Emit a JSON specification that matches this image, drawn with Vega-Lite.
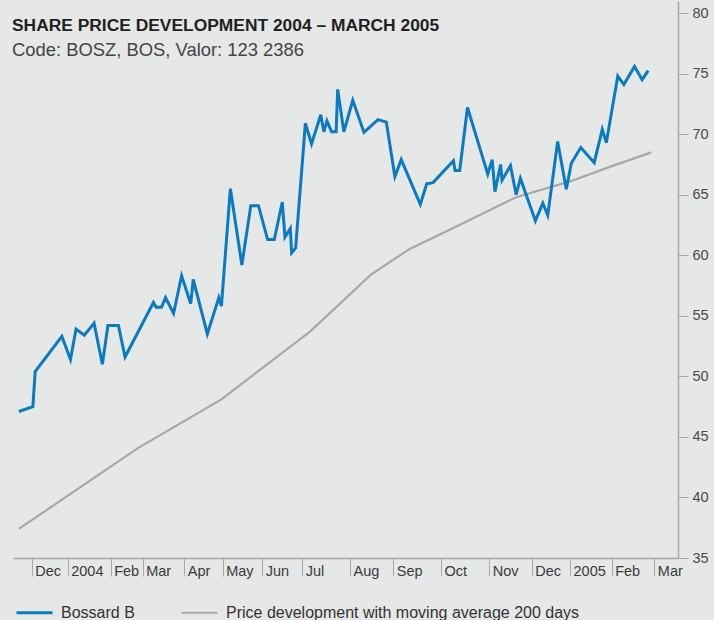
{
  "$schema": "https://vega.github.io/schema/vega-lite/v6.json",
  "width": 665,
  "height": 557,
  "autosize": {"type": "none"},
  "padding": {"left": 13, "top": 1, "right": 36, "bottom": 62},
  "background": "#e6e7e7",
  "config": {"view": {"stroke": null}, "font": "Liberation Sans"},
  "title": {
    "text": "SHARE PRICE DEVELOPMENT 2004 – MARCH 2005",
    "subtitle": "Code: BOSZ, BOS, Valor: 123 2386",
    "anchor": "start",
    "frame": "group",
    "orient": "top",
    "offset": -58,
    "dx": -1,
    "font": "Liberation Sans",
    "fontSize": 17.4,
    "fontWeight": "bold",
    "color": "#231f20",
    "subtitleFont": "Liberation Sans",
    "subtitleFontSize": 18.4,
    "subtitleColor": "#444444",
    "subtitlePadding": 6
  },
  "data": {
    "format": {"parse": {"date": "utc:'%Y-%m-%d'"}},
    "values": [
      {"date": "2003-11-20", "price": 37.4, "series": "Price development with moving average 200 days"},
      {"date": "2004-02-26", "price": 44.1, "series": "Price development with moving average 200 days"},
      {"date": "2004-04-30", "price": 48.1, "series": "Price development with moving average 200 days"},
      {"date": "2004-07-06", "price": 53.7, "series": "Price development with moving average 200 days"},
      {"date": "2004-08-16", "price": 58.4, "series": "Price development with moving average 200 days"},
      {"date": "2004-09-11", "price": 60.5, "series": "Price development with moving average 200 days"},
      {"date": "2004-09-30", "price": 61.7, "series": "Price development with moving average 200 days"},
      {"date": "2004-11-20", "price": 64.8, "series": "Price development with moving average 200 days"},
      {"date": "2004-12-02", "price": 65.2, "series": "Price development with moving average 200 days"},
      {"date": "2005-01-01", "price": 66.1, "series": "Price development with moving average 200 days"},
      {"date": "2005-01-28", "price": 67.2, "series": "Price development with moving average 200 days"},
      {"date": "2005-02-27", "price": 68.5, "series": "Price development with moving average 200 days"},
      {"date": "2003-11-20", "price": 47.1, "series": "Bossard B"},
      {"date": "2003-12-02", "price": 47.5, "series": "Bossard B"},
      {"date": "2003-12-04", "price": 50.4, "series": "Bossard B"},
      {"date": "2003-12-27", "price": 53.3, "series": "Bossard B"},
      {"date": "2004-01-03", "price": 51.4, "series": "Bossard B"},
      {"date": "2004-01-07", "price": 53.9, "series": "Bossard B"},
      {"date": "2004-01-13", "price": 53.4, "series": "Bossard B"},
      {"date": "2004-01-20", "price": 54.4, "series": "Bossard B"},
      {"date": "2004-01-26", "price": 51.0, "series": "Bossard B"},
      {"date": "2004-01-30", "price": 54.2, "series": "Bossard B"},
      {"date": "2004-02-08", "price": 54.2, "series": "Bossard B"},
      {"date": "2004-02-14", "price": 51.6, "series": "Bossard B"},
      {"date": "2004-03-09", "price": 56.1, "series": "Bossard B"},
      {"date": "2004-03-11", "price": 55.7, "series": "Bossard B"},
      {"date": "2004-03-15", "price": 55.7, "series": "Bossard B"},
      {"date": "2004-03-18", "price": 56.5, "series": "Bossard B"},
      {"date": "2004-03-24", "price": 55.2, "series": "Bossard B"},
      {"date": "2004-03-30", "price": 58.3, "series": "Bossard B"},
      {"date": "2004-04-06", "price": 56.0, "series": "Bossard B"},
      {"date": "2004-04-08", "price": 58.0, "series": "Bossard B"},
      {"date": "2004-04-19", "price": 53.5, "series": "Bossard B"},
      {"date": "2004-04-28", "price": 56.5, "series": "Bossard B"},
      {"date": "2004-04-30", "price": 55.8, "series": "Bossard B"},
      {"date": "2004-05-07", "price": 65.5, "series": "Bossard B"},
      {"date": "2004-05-16", "price": 59.2, "series": "Bossard B"},
      {"date": "2004-05-23", "price": 64.1, "series": "Bossard B"},
      {"date": "2004-05-29", "price": 64.1, "series": "Bossard B"},
      {"date": "2004-06-05", "price": 61.3, "series": "Bossard B"},
      {"date": "2004-06-10", "price": 61.3, "series": "Bossard B"},
      {"date": "2004-06-16", "price": 64.4, "series": "Bossard B"},
      {"date": "2004-06-18", "price": 61.5, "series": "Bossard B"},
      {"date": "2004-06-22", "price": 62.2, "series": "Bossard B"},
      {"date": "2004-06-23", "price": 60.2, "series": "Bossard B"},
      {"date": "2004-06-26", "price": 60.6, "series": "Bossard B"},
      {"date": "2004-07-03", "price": 70.9, "series": "Bossard B"},
      {"date": "2004-07-07", "price": 69.2, "series": "Bossard B"},
      {"date": "2004-07-13", "price": 71.6, "series": "Bossard B"},
      {"date": "2004-07-15", "price": 70.2, "series": "Bossard B"},
      {"date": "2004-07-17", "price": 71.1, "series": "Bossard B"},
      {"date": "2004-07-20", "price": 70.2, "series": "Bossard B"},
      {"date": "2004-07-23", "price": 70.2, "series": "Bossard B"},
      {"date": "2004-07-24", "price": 73.7, "series": "Bossard B"},
      {"date": "2004-07-28", "price": 70.2, "series": "Bossard B"},
      {"date": "2004-08-03", "price": 72.8, "series": "Bossard B"},
      {"date": "2004-08-11", "price": 70.15, "series": "Bossard B"},
      {"date": "2004-08-21", "price": 71.2, "series": "Bossard B"},
      {"date": "2004-08-27", "price": 71.0, "series": "Bossard B"},
      {"date": "2004-09-02", "price": 66.5, "series": "Bossard B"},
      {"date": "2004-09-06", "price": 67.9, "series": "Bossard B"},
      {"date": "2004-09-18", "price": 64.2, "series": "Bossard B"},
      {"date": "2004-09-22", "price": 65.9, "series": "Bossard B"},
      {"date": "2004-09-26", "price": 66.0, "series": "Bossard B"},
      {"date": "2004-10-09", "price": 67.8, "series": "Bossard B"},
      {"date": "2004-10-10", "price": 67.0, "series": "Bossard B"},
      {"date": "2004-10-13", "price": 67.0, "series": "Bossard B"},
      {"date": "2004-10-18", "price": 72.2, "series": "Bossard B"},
      {"date": "2004-10-31", "price": 66.7, "series": "Bossard B"},
      {"date": "2004-11-03", "price": 67.9, "series": "Bossard B"},
      {"date": "2004-11-05", "price": 65.25, "series": "Bossard B"},
      {"date": "2004-11-09", "price": 67.5, "series": "Bossard B"},
      {"date": "2004-11-10", "price": 66.2, "series": "Bossard B"},
      {"date": "2004-11-16", "price": 67.4, "series": "Bossard B"},
      {"date": "2004-11-20", "price": 65.0, "series": "Bossard B"},
      {"date": "2004-11-23", "price": 66.35, "series": "Bossard B"},
      {"date": "2004-12-04", "price": 62.85, "series": "Bossard B"},
      {"date": "2004-12-10", "price": 64.3, "series": "Bossard B"},
      {"date": "2004-12-14", "price": 63.3, "series": "Bossard B"},
      {"date": "2004-12-22", "price": 69.4, "series": "Bossard B"},
      {"date": "2004-12-29", "price": 65.45, "series": "Bossard B"},
      {"date": "2005-01-02", "price": 67.6, "series": "Bossard B"},
      {"date": "2005-01-09", "price": 68.9, "series": "Bossard B"},
      {"date": "2005-01-19", "price": 67.65, "series": "Bossard B"},
      {"date": "2005-01-25", "price": 70.4, "series": "Bossard B"},
      {"date": "2005-01-28", "price": 69.3, "series": "Bossard B"},
      {"date": "2005-02-05", "price": 74.8, "series": "Bossard B"},
      {"date": "2005-02-09", "price": 74.1, "series": "Bossard B"},
      {"date": "2005-02-16", "price": 75.6, "series": "Bossard B"},
      {"date": "2005-02-21", "price": 74.5, "series": "Bossard B"},
      {"date": "2005-02-25", "price": 75.25, "series": "Bossard B"}
    ]
  },
  "mark": {"type": "line", "interpolate": "linear"},
  "encoding": {
    "x": {
      "field": "date",
      "type": "quantitative",
      "scale": {
        "type": "linear",
        "nice": false,
        "zero": false,
        "domain": [1068854400000, 1070236800000, 1072915200000, 1075593600000, 1078099200000, 1080777600000, 1083369600000, 1086048000000, 1088640000000, 1091318400000, 1093996800000, 1096588800000, 1099267200000, 1101859200000, 1104537600000, 1107216000000, 1109635200000, 1111104000000],
        "range": [0, 18.7, 54.7, 97.7, 129.7, 171.3, 209.7, 249.3, 289.3, 337, 380.3, 428, 476.3, 518.7, 557, 598.7, 641.3, 665]
      },
      "axis": {
        "title": null,
        "grid": false,
        "values": [1070236800000, 1072915200000, 1075593600000, 1078099200000, 1080777600000, 1083369600000, 1086048000000, 1088640000000, 1091318400000, 1093996800000, 1096588800000, 1099267200000, 1101859200000, 1104537600000, 1107216000000, 1109635200000],
        "labelExpr": "utcFormat(datum.value, '%m') == '01' ? utcFormat(datum.value, '%Y') : utcFormat(datum.value, '%b')",
        "labelAlign": "left",
        "labelBaseline": "alphabetic",
        "labelOffset": 3,
        "labelPadding": -1,
        "labelFlush": false,
        "labelOverlap": false,
        "labelBound": false,
        "labelFont": "Liberation Sans",
        "labelFontSize": 14.5,
        "labelColor": "#3a3a3a",
        "tickSize": 18,
        "tickColor": "#a9a9a9",
        "tickWidth": 1,
        "domainColor": "#a9a9a9",
        "domainWidth": 1.5
      }
    },
    "y": {
      "field": "price",
      "type": "quantitative",
      "scale": {"domain": [35, 81], "nice": false, "zero": false},
      "axis": {
        "orient": "right",
        "title": null,
        "grid": false,
        "values": [35, 40, 45, 50, 55, 60, 65, 70, 75, 80],
        "labelFont": "Liberation Sans",
        "labelFontSize": 14.5,
        "labelColor": "#4a4a4a",
        "labelPadding": 4,
        "tickSize": 10,
        "tickColor": "#a9a9a9",
        "tickWidth": 1,
        "domainColor": "#a9a9a9",
        "domainWidth": 1.5
      }
    },
    "color": {
      "field": "series",
      "type": "nominal",
      "scale": {
        "domain": ["Bossard B", "Price development with moving average 200 days"],
        "range": ["#0a7bc1", "#a8a8a8"]
      },
      "legend": {
        "title": null,
        "orient": "none",
        "legendX": 2,
        "legendY": 592,
        "direction": "horizontal",
        "symbolType": "stroke",
        "symbolSize": 1296,
        "symbolStrokeWidth": 2.8,
        "labelFont": "Liberation Sans",
        "labelFontSize": 16,
        "labelColor": "#333333",
        "labelOffset": 7,
        "labelLimit": 600,
        "columnPadding": 42
      }
    },
    "strokeWidth": {
      "field": "series",
      "type": "nominal",
      "scale": {
        "domain": ["Bossard B", "Price development with moving average 200 days"],
        "range": [3, 2.2]
      },
      "legend": null
    }
  }
}
